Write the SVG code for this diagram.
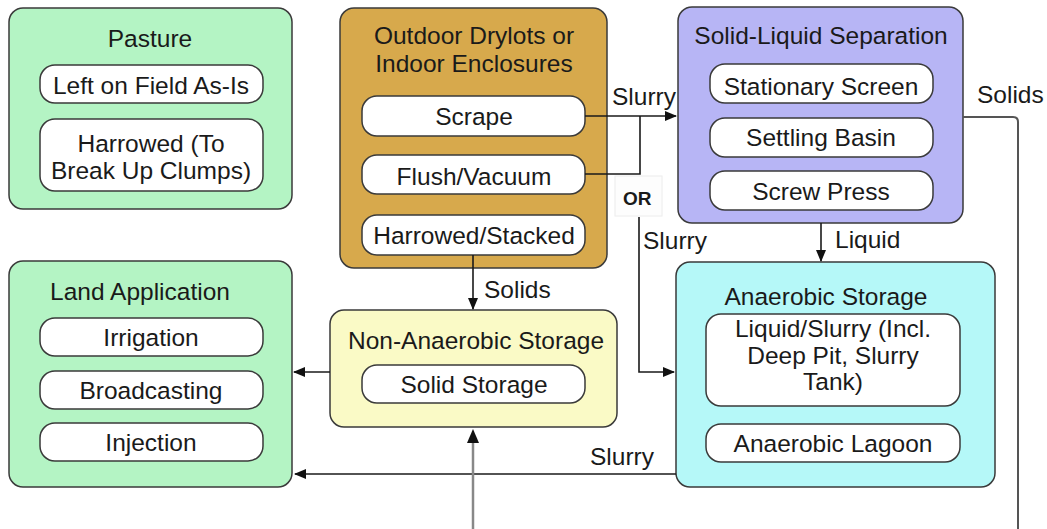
<svg xmlns="http://www.w3.org/2000/svg" width="1047" height="529" viewBox="0 0 1047 529">
<style>
text{font-family:"Liberation Sans",Arial,Helvetica,sans-serif;font-size:24.5px;fill:#1a1a1a;text-anchor:middle}
.lbl{text-anchor:start}
.or{font-weight:bold;font-size:19px;text-anchor:start}
.box{stroke:#3a3a3a;stroke-width:1.5}
.sub{fill:#fff;stroke:#3a3a3a;stroke-width:1.5}
.ln{fill:none;stroke:#1a1a1a;stroke-width:1.6}
</style>
<defs>
<marker id="ah" markerWidth="12" markerHeight="10" refX="11" refY="5" orient="auto" markerUnits="userSpaceOnUse">
<path d="M0,0 L12,5 L0,10 Z" fill="#111"/>
</marker>
</defs>
<rect width="1047" height="529" fill="#fff"/>

<g id="pasture">
<rect class="box" x="9" y="8" width="283" height="201" rx="14" fill="#b4f4c4"/>
<text x="150" y="47">Pasture</text>
<rect class="sub" x="40" y="65" width="223" height="38" rx="15"/>
<text x="151" y="94">Left on Field As-Is</text>
<rect class="sub" x="40" y="119" width="223" height="72" rx="15"/>
<text x="151" y="152">Harrowed (To</text>
<text x="151" y="179">Break Up Clumps)</text>
</g>

<g id="drylots">
<rect class="box" x="340" y="8" width="267" height="260" rx="14" fill="#d7a94c"/>
<text x="474" y="44">Outdoor Drylots or</text>
<text x="474" y="72">Indoor Enclosures</text>
<rect class="sub" x="362" y="96" width="223" height="40" rx="15"/>
<text x="474" y="125">Scrape</text>
<rect class="sub" x="362" y="155" width="223" height="39" rx="15"/>
<text x="474" y="185">Flush/Vacuum</text>
<rect class="sub" x="362" y="215" width="223" height="40" rx="15"/>
<text x="474" y="244">Harrowed/Stacked</text>
</g>

<g id="separation">
<rect class="box" x="678" y="7" width="285" height="216" rx="14" fill="#b7b5f5"/>
<text x="821" y="44">Solid-Liquid Separation</text>
<rect class="sub" x="710" y="64" width="223" height="39" rx="15"/>
<text x="821" y="95">Stationary Screen</text>
<rect class="sub" x="710" y="118" width="223" height="39" rx="15"/>
<text x="821" y="146">Settling Basin</text>
<rect class="sub" x="710" y="171" width="223" height="39" rx="15"/>
<text x="821" y="200">Screw Press</text>
</g>

<g id="land-application">
<rect class="box" x="9" y="261" width="283" height="226" rx="14" fill="#b4f4c4"/>
<text x="140" y="300">Land Application</text>
<rect class="sub" x="40" y="318" width="223" height="38" rx="15"/>
<text x="151" y="346">Irrigation</text>
<rect class="sub" x="40" y="371" width="223" height="38" rx="15"/>
<text x="151" y="399">Broadcasting</text>
<rect class="sub" x="40" y="423" width="223" height="38" rx="15"/>
<text x="151" y="451">Injection</text>
</g>

<g id="non-anaerobic">
<rect class="box" x="330" y="310" width="287" height="117" rx="14" fill="#fafac6"/>
<text x="476" y="349">Non-Anaerobic Storage</text>
<rect class="sub" x="362" y="365" width="223" height="38" rx="15"/>
<text x="474" y="393">Solid Storage</text>
</g>

<g id="anaerobic">
<rect class="box" x="676" y="262" width="319" height="225" rx="14" fill="#b5f8f8"/>
<text x="826" y="305">Anaerobic Storage</text>
<rect class="sub" x="706" y="314" width="254" height="92" rx="15"/>
<text x="833" y="337">Liquid/Slurry (Incl.</text>
<text x="833" y="364">Deep Pit, Slurry</text>
<text x="833" y="390">Tank)</text>
<rect class="sub" x="706" y="424" width="254" height="38" rx="15"/>
<text x="833" y="452">Anaerobic Lagoon</text>
</g>

<g id="connectors">
<path class="ln" d="M585,116 H676" marker-end="url(#ah)"/>
<path class="ln" d="M585,174 H640 V116"/>
<rect x="615" y="176" width="47" height="40" fill="#fdfdfd" stroke="#ececec" stroke-width="1"/>
<path class="ln" d="M639,217 V372 H674" marker-end="url(#ah)"/>
<path class="ln" d="M473,255 V309" marker-end="url(#ah)"/>
<path class="ln" d="M330,372 H294" marker-end="url(#ah)"/>
<path class="ln" d="M676,474 H295" marker-end="url(#ah)"/>
<path class="ln" d="M821,223 V261" marker-end="url(#ah)"/>
<path fill="none" stroke="#888" stroke-width="2.5" d="M473,529 V440"/>
<path d="M467,443 L473,429 L479,443 Z" fill="#111"/>
<path fill="none" stroke="#555" stroke-width="2" d="M963,117 H1013 Q1018,117 1018,122 V529"/>
<text class="lbl" x="612" y="105">Slurry</text>
<text class="or" x="623" y="205">OR</text>
<text class="lbl" x="643" y="249">Slurry</text>
<text class="lbl" x="484" y="298">Solids</text>
<text class="lbl" x="835" y="248">Liquid</text>
<text class="lbl" x="590" y="465">Slurry</text>
<text class="lbl" x="977" y="103">Solids</text>
</g>
</svg>
